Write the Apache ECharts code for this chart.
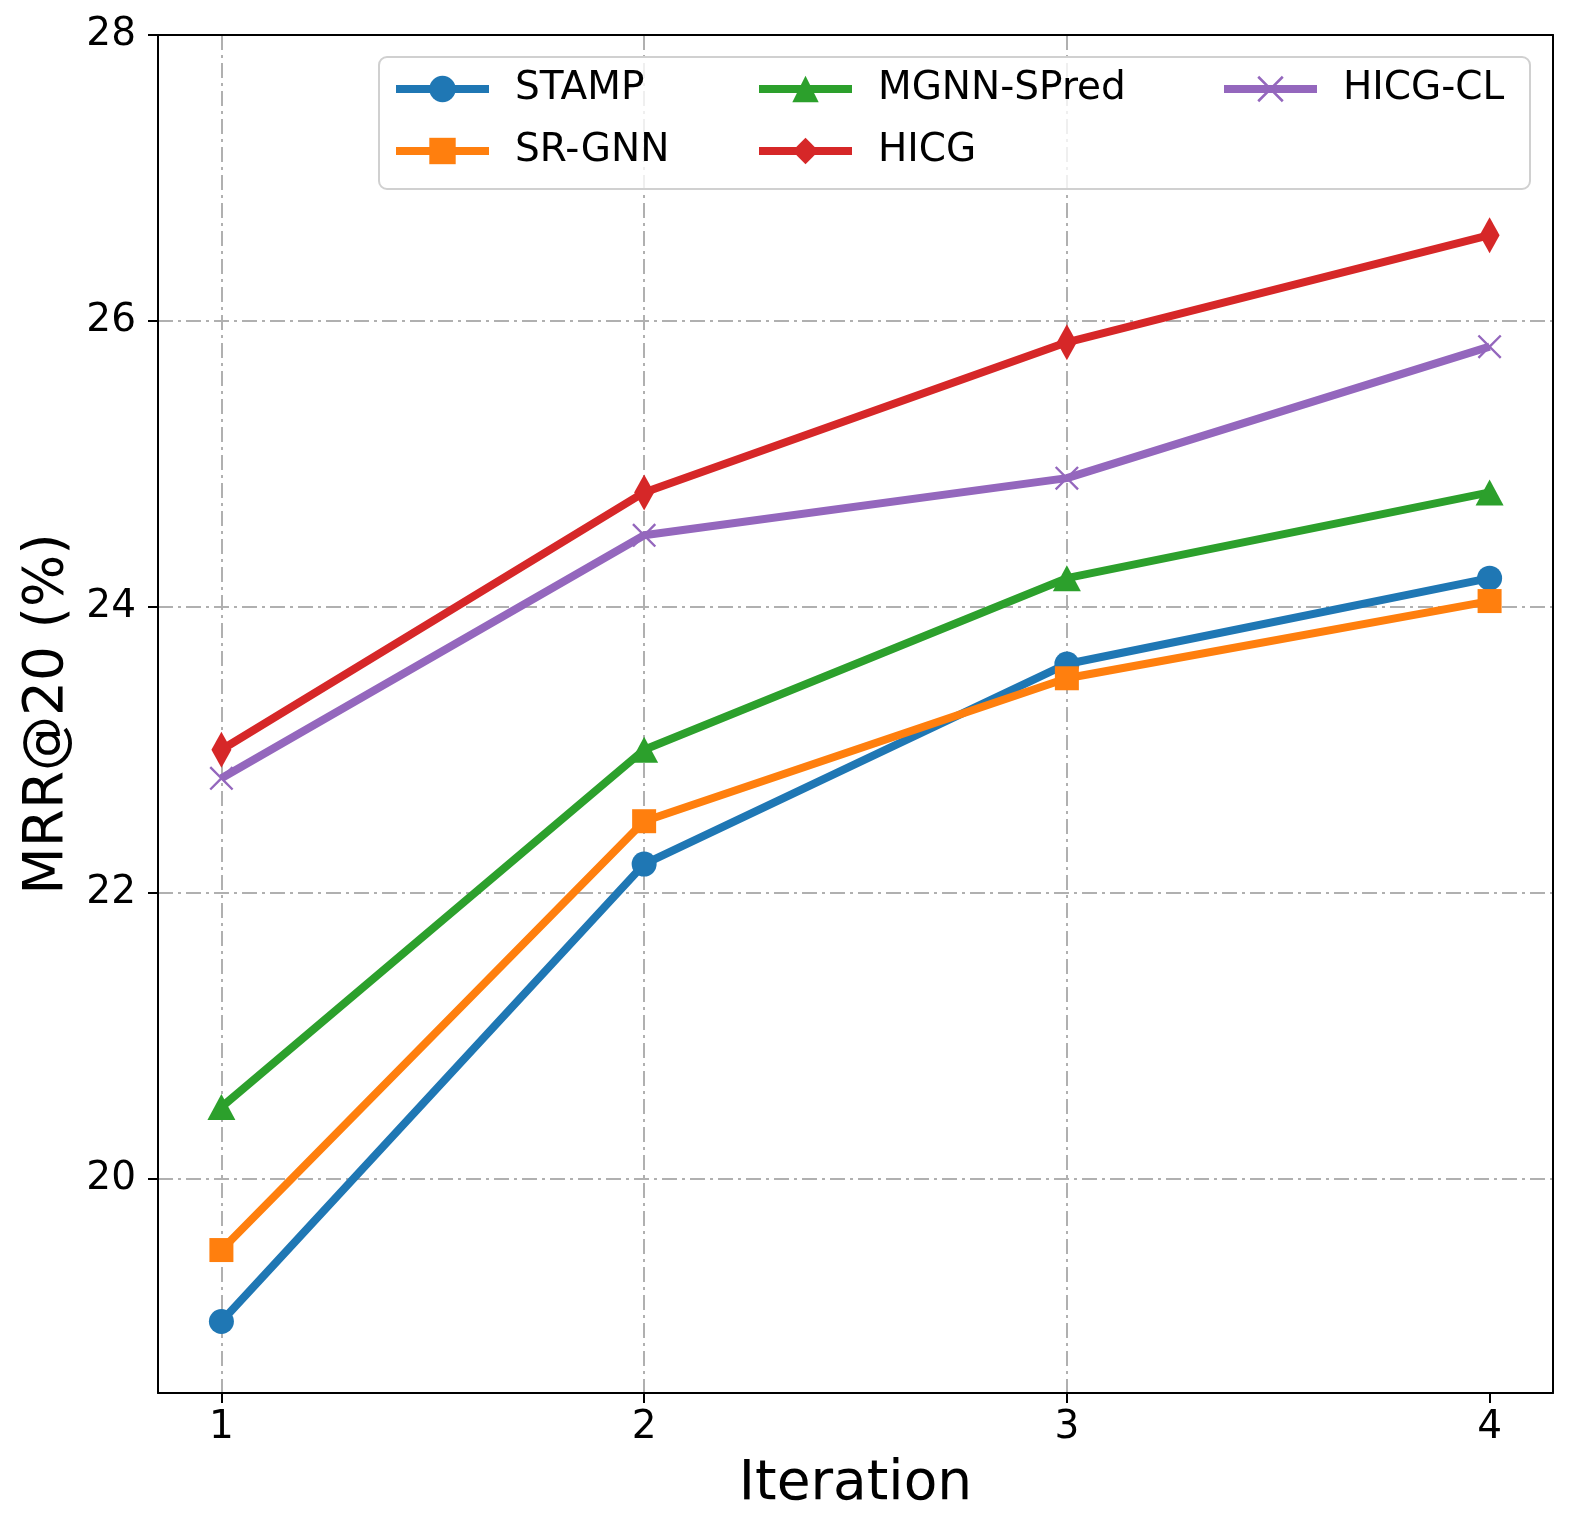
<!DOCTYPE html>
<html>
<head>
<meta charset="utf-8">
<script src="https://cdn.jsdelivr.net/npm/echarts@6/dist/echarts.min.js"></script>
<style>
  html, body { margin: 0; padding: 0; background: #fff; }
  #container { width: 1572px; height: 1533px; }
</style>
</head>
<body>
<div id="container"></div>
<script>
// data
var iterations = [1, 2, 3, 4];
var yTicks = [20, 22, 24, 26, 28];
var stamp = [19.0, 22.2, 23.6, 24.2];
var srgnn = [19.5, 22.5, 23.5, 24.04];
var mgnn = [20.5, 23.0, 24.2, 24.8];
var hicg = [23.0, 24.8, 25.85, 26.6];
var hicgcl = [22.8, 24.5, 24.9, 25.82];

var font = 'DejaVu Sans';
var xPath = 'path://M0,7L7,0L50,43L93,0L100,7L57,50L100,93L93,100L50,57L7,100L0,93L43,50Z';

function pairs(vals) {
    return vals.map(function (v, i) { return [iterations[i], v]; });
}

function makeSeries(name, vals, color, symbol, size) {
    return {
        name: name,
        type: 'line',
        data: pairs(vals),
        symbol: symbol,
        symbolSize: size,
        showAllSymbol: true,
        z: 2,
        lineStyle: { color: color, width: 8 },
        itemStyle: { color: color },
        emphasis: { disabled: true },
        animation: false
    };
}

var gridLine = { show: true, showMaxLine: false, lineStyle: { color: '#b0b0b0', width: 2, type: [15, 5, 3, 5] } };
var legendText = { fontFamily: font, fontSize: 39, color: '#000', lineHeight: 40, padding: [0, 0, 0, 21] };
// plain frame lines for the top and right sides
var frameLine = { show: true, onZero: false, lineStyle: { color: '#000', width: 2 } };

function legendCol(names, left) {
    return {
        data: names,
        orient: 'vertical',
        left: left,
        top: 69,
        itemWidth: 93,
        itemHeight: 33,
        itemGap: 22,
        padding: 0,
        z: 5,
        selectedMode: false,
        lineStyle: { width: 8 },
        textStyle: legendText
    };
}

var dom = document.getElementById('container');
var myChart = echarts.init(dom);
var option = {
    backgroundColor: '#fff',
    animation: false,
    grid: { left: 158, right: 19, top: 35, bottom: 140 },
    xAxis: [{
        type: 'value',
        min: 0.85,
        max: 4.15,
        name: 'Iteration',
        nameLocation: 'middle',
        nameGap: 64,
        nameTextStyle: { fontFamily: font, fontSize: 55, color: '#000' },
        axisLine: { show: true, onZero: false, lineStyle: { color: '#000', width: 2 } },
        axisTick: { show: true, length: 10, lineStyle: { color: '#000', width: 2 }, customValues: iterations },
        axisLabel: { fontFamily: font, fontSize: 39, color: '#000', margin: 15, customValues: iterations },
        splitLine: gridLine
    }, {
        type: 'value',
        position: 'top',
        min: 0.85,
        max: 4.15,
        z: 3,
        axisLine: frameLine,
        axisTick: { show: false },
        axisLabel: { show: false },
        splitLine: { show: false }
    }],
    yAxis: [{
        type: 'value',
        min: 18.5,
        max: 28,
        name: 'MRR@20 (%)',
        nameLocation: 'middle',
        nameRotate: 90,
        nameGap: 82,
        nameTextStyle: { fontFamily: font, fontSize: 55, color: '#000' },
        axisLine: { show: true, onZero: false, lineStyle: { color: '#000', width: 2 } },
        axisTick: { show: true, length: 10, lineStyle: { color: '#000', width: 2 }, customValues: yTicks },
        axisLabel: { fontFamily: font, fontSize: 39, color: '#000', margin: 22, customValues: yTicks },
        splitLine: gridLine
    }, {
        type: 'value',
        position: 'right',
        min: 18.5,
        max: 28,
        z: 3,
        axisLine: frameLine,
        axisTick: { show: false },
        axisLabel: { show: false },
        splitLine: { show: false }
    }],
    graphic: [{
        type: 'rect',
        z: 3,
        shape: { x: 379, y: 57, width: 1151, height: 132, r: 8 },
        style: { fill: 'rgba(255,255,255,0.8)', stroke: '#d0d0d0', lineWidth: 2 }
    }],
    legend: [
        legendCol(['STAMP', 'SR-GNN'], 392),
        legendCol(['MGNN-SPred', 'HICG'], 755),
        legendCol(['HICG-CL'], 1220)
    ],
    series: [
        makeSeries('STAMP', stamp, '#1f77b4', 'circle', 25),
        makeSeries('SR-GNN', srgnn, '#ff7f0e', 'rect', 24),
        makeSeries('MGNN-SPred', mgnn, '#2ca02c', 'triangle', [28, 26]),
        makeSeries('HICG', hicg, '#d62728', 'diamond', [20, 36]),
        makeSeries('HICG-CL', hicgcl, '#9467bd', xPath, 24)
    ]
};
if (option && typeof option === "object") {
    myChart.setOption(option, true);
}
</script>
</body>
</html>
